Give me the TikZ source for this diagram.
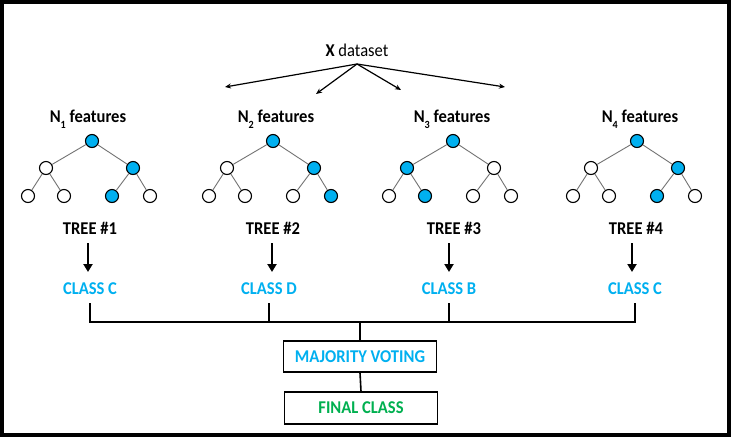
\documentclass[tikz,border=0pt]{standalone}
\usepackage{fontspec}
\setmainfont[FakeStretch=0.92]{Carlito}
\usetikzlibrary{arrows.meta}
\definecolor{nodeblue}{HTML}{00B0F0}
\definecolor{txtblue}{HTML}{00B0F0}
\definecolor{txtgreen}{HTML}{00B050}
\newcommand{\lowsub}[1]{\raisebox{-0.32em}{\fontsize{11}{12}\selectfont #1}}
\begin{document}
\begin{tikzpicture}[x=1pt,y=-1pt,
  tn/.style={circle, draw=black, line width=1.1pt, minimum size=13pt, inner sep=0pt},
  te/.style={draw=black!55, line width=0.9pt},
  lbl/.style={font=\bfseries\fontsize{18}{20}\selectfont, inner sep=0pt, text height=11.6pt, text depth=0pt},
  cls/.style={lbl, text=txtblue},
  thin arr/.style={line width=1.2pt, -{Stealth[length=6pt,width=5pt]}},
  bigarr/.style={line width=2.4pt, -{Triangle[length=8pt,width=9pt]}},
  bus/.style={line width=1.6pt},
  boxnode/.style={lbl, draw=black, line width=1.4pt, minimum width=153pt, minimum height=31pt}
]
\useasboundingbox (0,0) rectangle (731,437);
\fill[white] (0,0) rectangle (731,437);
\draw[line width=4pt] (2,2) rectangle (729,435);

% X dataset
\node[lbl, font=\fontsize{18}{20}\selectfont] (xd) at (357,51) {\textbf{X} dataset};
\coordinate (src) at (357,64);
\coordinate (d1) at (225,87);
\coordinate (d2) at (316,94);
\coordinate (d3) at (401,90);
\coordinate (d4) at (505,87);
\foreach \d in {d1,d2,d3,d4} \draw[thin arr] (src) -- (\d);

% feature labels
\node[lbl] (n1) at (88,117) {N\lowsub{1} features};
\node[lbl] (n2) at (276,117) {N\lowsub{2} features};
\node[lbl] (n3) at (452,117) {N\lowsub{3} features};
\node[lbl] (n4) at (640,117) {N\lowsub{4} features};

% trees
\foreach \k/\x/\fa/\fb/\fc/\fd/\fe/\ff in {
  1/92/white/nodeblue/white/white/nodeblue/white,
  2/273/white/nodeblue/white/white/white/nodeblue,
  3/453/nodeblue/white/white/nodeblue/white/white,
  4/637/white/nodeblue/white/white/nodeblue/white}{
  \node[tn, fill=nodeblue] (r\k) at (\x,141) {};
  \node[tn, fill=\fa] (a\k) at (\x-46,168) {};
  \node[tn, fill=\fb] (b\k) at (\x+41,168) {};
  \node[tn, fill=\fc] (c\k) at (\x-64,196) {};
  \node[tn, fill=\fd] (e\k) at (\x-28,196) {};
  \node[tn, fill=\fe] (f\k) at (\x+20,196) {};
  \node[tn, fill=\ff] (g\k) at (\x+58,196) {};
  \draw[te] (r\k) -- (a\k);
  \draw[te] (r\k) -- (b\k);
  \draw[te] (a\k) -- (c\k);
  \draw[te] (a\k) -- (e\k);
  \draw[te] (b\k) -- (f\k);
  \draw[te] (b\k) -- (g\k);
}

% tree labels
\node[lbl] (tr1) at (90,229) {TREE \#1};
\node[lbl] (tr2) at (273,229) {TREE \#2};
\node[lbl] (tr3) at (454,229) {TREE \#3};
\node[lbl] (tr4) at (636,229) {TREE \#4};

% class labels
\node[cls] (cl1) at (90,289) {CLASS C};
\node[cls] (cl2) at (269,289) {CLASS D};
\node[cls] (cl3) at (449,289) {CLASS B};
\node[cls] (cl4) at (635,289) {CLASS C};

\foreach \k/\ax in {1/88,2/272,3/449,4/632}{
  \draw[bigarr] (\ax,243) -- (\ax,272);
}

% voting
\coordinate (busc) at (360,322);
\node[boxnode, text=txtblue] (mv) at (360,356.5) {MAJORITY VOTING};
\node[boxnode, text=txtgreen, minimum height=32pt] (fc) at (361,408) {FINAL CLASS};

\foreach \k in {1,2,3,4}{
  \draw[bus] ([yshift=-8pt]cl\k.south) -- (cl\k.south |- busc);
}
\draw[bus] ([xshift=-0.8pt]cl1.south |- busc) -- ([xshift=0.8pt]cl4.south |- busc);
\draw[bus] (busc) -- (mv.north);
\draw[bus] (mv.south) -- (fc.north);
\end{tikzpicture}
\end{document}
